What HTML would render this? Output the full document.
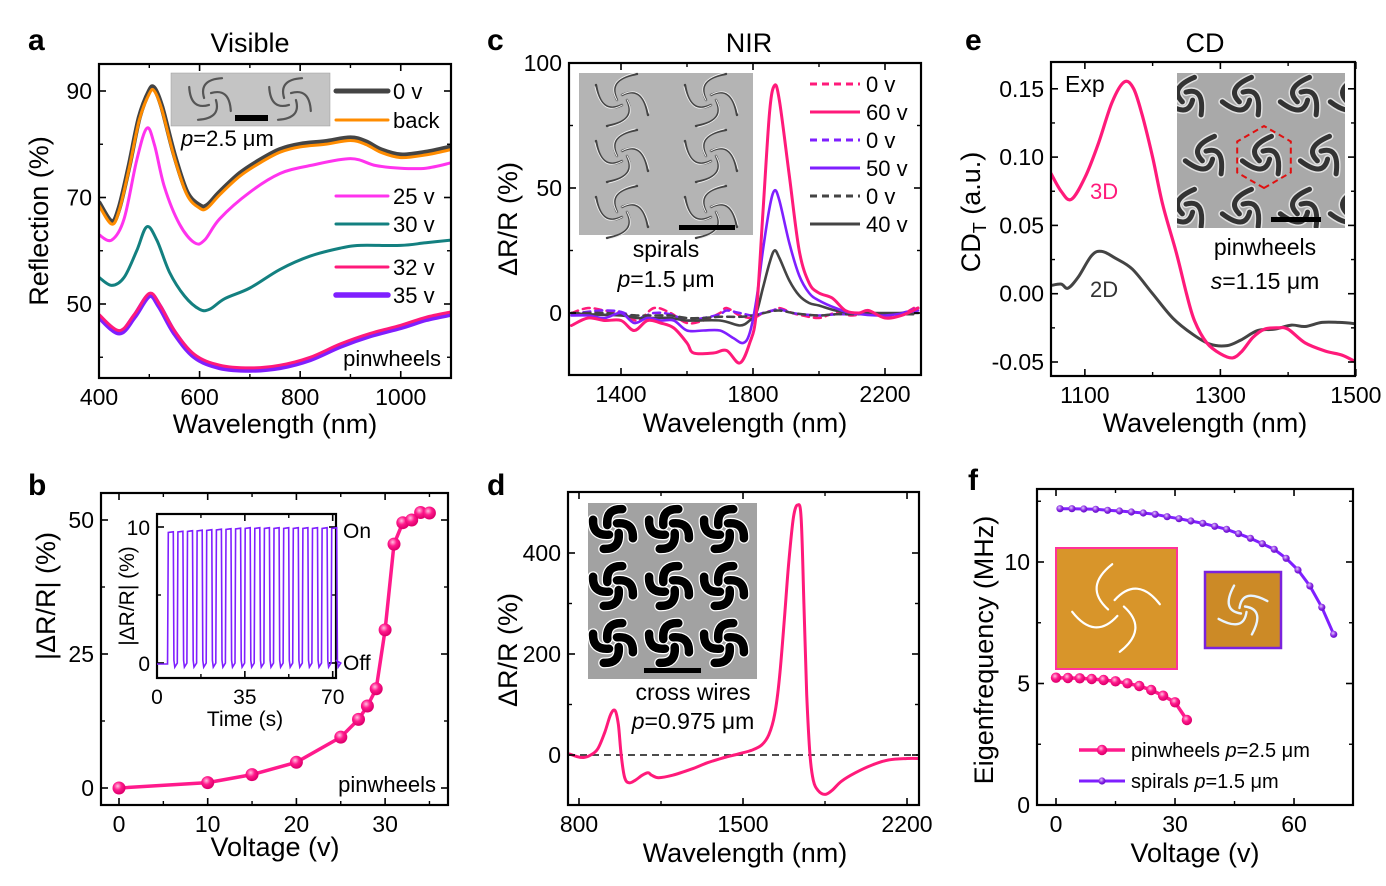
<!DOCTYPE html>
<html><head><meta charset="utf-8"><style>
html,body{margin:0;padding:0;background:#fff;}
svg{display:block;font-family:"Liberation Sans",Arial,sans-serif;}
</style></head><body>
<svg id="s" width="1386" height="886" viewBox="0 0 1386 886" xmlns="http://www.w3.org/2000/svg">
<defs>
<radialGradient id="gp" cx="0.4" cy="0.35" r="0.6"><stop offset="0" stop-color="#ffc0e0"/><stop offset="0.5" stop-color="#ff1a8c"/><stop offset="1" stop-color="#e0006e"/></radialGradient>
<radialGradient id="gv" cx="0.4" cy="0.35" r="0.6"><stop offset="0" stop-color="#e0c8ff"/><stop offset="0.6" stop-color="#8a2be2"/><stop offset="1" stop-color="#6a10d0"/></radialGradient>
</defs>
</svg>
<script>
var S=document.getElementById('s');var out='';
function cr(pts){var d='M'+pts[0][0].toFixed(1)+','+pts[0][1].toFixed(1);
for(var i=0;i<pts.length-1;i++){var p0=pts[i-1]||pts[i],p1=pts[i],p2=pts[i+1],p3=pts[i+2]||p2;
var c1=[p1[0]+(p2[0]-p0[0])/6,p1[1]+(p2[1]-p0[1])/6],c2=[p2[0]-(p3[0]-p1[0])/6,p2[1]-(p3[1]-p1[1])/6];
d+='C'+c1[0].toFixed(1)+','+c1[1].toFixed(1)+' '+c2[0].toFixed(1)+','+c2[1].toFixed(1)+' '+p2[0].toFixed(1)+','+p2[1].toFixed(1);}return d;}
function curve(P,data,col,w,dash){var pts=[];for(var i=0;i<data.length;i+=2)pts.push([P.X(data[i]),P.Y(data[i+1])]);
out+='<path d="'+cr(pts)+'" fill="none" stroke="'+col+'" stroke-width="'+w+'" stroke-linejoin="round" stroke-linecap="round"'+(dash?' stroke-dasharray="'+dash+'"':'')+'/>';}
function txt(x,y,s,sz,anc,extra){out+='<text x="'+x+'" y="'+y+'" font-size="'+sz+'" text-anchor="'+(anc||'start')+'" '+(extra||'')+'>'+s+'</text>';}
function frame(P){var x0=P.x0,x1=P.x1,y0=P.y0,y1=P.y1;
P.xM.forEach(function(v){var x=P.X(v);out+='<line x1="'+x+'" y1="'+y1+'" x2="'+x+'" y2="'+(y1-7)+'" stroke="#000" stroke-width="1.6"/><line x1="'+x+'" y1="'+y0+'" x2="'+x+'" y2="'+(y0+7)+'" stroke="#000" stroke-width="1.6"/>';
txt(x,y1+(P.xo||27),P.xl?P.xl(v):v,P.fs||23,'middle');});
(P.xm||[]).forEach(function(v){var x=P.X(v);out+='<line x1="'+x+'" y1="'+y1+'" x2="'+x+'" y2="'+(y1-4)+'" stroke="#000" stroke-width="1.4"/><line x1="'+x+'" y1="'+y0+'" x2="'+x+'" y2="'+(y0+4)+'" stroke="#000" stroke-width="1.4"/>';});
P.yM.forEach(function(v){var y=P.Y(v);out+='<line x1="'+x0+'" y1="'+y+'" x2="'+(x0+7)+'" y2="'+y+'" stroke="#000" stroke-width="1.6"/><line x1="'+x1+'" y1="'+y+'" x2="'+(x1-7)+'" y2="'+y+'" stroke="#000" stroke-width="1.6"/>';
txt(x0-7,y+8,P.yl?P.yl(v):v,P.fs||23,'end');});
(P.ym||[]).forEach(function(v){var y=P.Y(v);out+='<line x1="'+x0+'" y1="'+y+'" x2="'+(x0+4)+'" y2="'+y+'" stroke="#000" stroke-width="1.4"/><line x1="'+x1+'" y1="'+y+'" x2="'+(x1-4)+'" y2="'+y+'" stroke="#000" stroke-width="1.4"/>';});
out+='<rect x="'+x0+'" y="'+y0+'" width="'+(x1-x0)+'" height="'+(y1-y0)+'" fill="none" stroke="#000" stroke-width="2.2"/>';}
function clip(id,P){out+='<clipPath id="'+id+'"><rect x="'+P.x0+'" y="'+P.y0+'" width="'+(P.x1-P.x0)+'" height="'+(P.y1-P.y0)+'"/></clipPath>';}
function lab(x,y,s){txt(x,y,s,27,'middle');}
function vlab(x,y,s){out+='<text x="'+x+'" y="'+y+'" font-size="27" text-anchor="middle" transform="rotate(-90 '+x+' '+y+')">'+s+'</text>';}
function arm(cx,cy,r0,r1,a,sweep,col,w){var a2=a+sweep,am=a+sweep*0.45;var rad=Math.PI/180;
var p0=[cx+r0*Math.cos(a*rad),cy+r0*Math.sin(a*rad)],p2=[cx+r1*Math.cos(a2*rad),cy+r1*Math.sin(a2*rad)],pc=[cx+(r0+r1)*0.75*Math.cos(am*rad),cy+(r0+r1)*0.75*Math.sin(am*rad)];
out+='<path d="M'+p0[0].toFixed(1)+','+p0[1].toFixed(1)+' Q'+pc[0].toFixed(1)+','+pc[1].toFixed(1)+' '+p2[0].toFixed(1)+','+p2[1].toFixed(1)+'" fill="none" stroke="'+col+'" stroke-width="'+w+'" stroke-linecap="round"/>';}
function motif(cx,cy,n,r0,r1,sw,col,w,off){for(var k=0;k<n;k++)arm(cx,cy,r0,r1,(off||0)+k*360/n,sw,col,w);}

/* ---------- panel a ---------- */
var A={x0:99,x1:451,y0:64,y1:378,X:function(n){return 99+(n-400)*0.5029},Y:function(v){return 304-(v-50)*5.325},
xM:[400,600,800,1000],xm:[500,700,900,1100],yM:[50,70,90],ym:[40,60,80]};
clip('ca',A);
out+='<g clip-path="url(#ca)">';
var a0=[400,69,425,65.5,440,68,460,76,480,85,500,90,510,90.5,525,87,550,78,575,71,600,68.5,615,68.5,640,71,680,74.5,720,77,760,79,800,80,850,80.5,900,81.2,930,80.5,960,79,1000,78,1050,78.5,1100,79.5];
var ab=a0.map(function(v,i){return i%2?v-0.5:v});
curve(A,a0,'#444',5);curve(A,ab,'#ff8c00',3);
curve(A,[400,63,425,62,450,66,475,77,495,83,510,80,530,72,560,65,590,61.5,610,62,640,66,700,71,760,74.5,820,76,900,77.3,950,76,1000,75.5,1050,75.5,1100,76.5],'#ff33ee',3);
curve(A,[400,55,425,53.5,450,55,475,60,495,64.5,515,62,540,56,570,51.5,600,49,620,49,650,51,700,53,760,56.5,820,59,880,60.5,920,61,1000,61,1050,61.5,1100,62],'#138080',3);
var a32=[400,48,440,45,470,48,500,52,520,50,550,45,590,40.5,640,38.5,700,38,760,38.5,820,40,880,42.5,940,44.5,1000,46,1050,47.5,1100,48.5];
curve(A,a32.map(function(v,i){return i%2?v-0.4:v}),'#7f1fff',5.5);curve(A,a32,'#ff1a7a',3);
out+='</g>';
frame(A);
[[91,'0 v','#444',5],[120,'back','#ff8c00',3],[196,'25 v','#ff33ee',3],[224,'30 v','#138080',3],[267,'32 v','#ff1a7a',3],[295,'35 v','#7f1fff',5.5]].forEach(function(r){
out+='<line x1="336" y1="'+r[0]+'" x2="388" y2="'+r[0]+'" stroke="'+r[2]+'" stroke-width="'+r[3]+'" stroke-linecap="round"/>';txt(393,r[0]+8,r[1],22);});
txt(441,366,'pinwheels',22,'end');
out+='<rect x="171" y="73" width="159" height="53" fill="#c4c4c4" stroke="#999" stroke-width="0.5"/>';
motif(210,99,4,6,24,110,'#555',2.2,10);motif(290,99,4,6,24,110,'#555',2.2,10);
out+='<rect x="235" y="115" width="33" height="6" fill="#000"/>';
txt(181,146,'<tspan font-style="italic">p</tspan>=2.5 μm',22);
out+='<text x="28" y="50" font-size="30" font-weight="bold">a</text>';lab(250,52,'Visible');
vlab(48,221,'Reflection (%)');lab(275,433,'Wavelength (nm)');

/* ---------- panel c ---------- */
var C={x0:569,x1:921,y0:63,y1:375,X:function(n){return 621+(n-1400)*0.33},Y:function(v){return 313-v*2.5},
xM:[1400,1800,2200],xm:[1600,2000],yM:[0,50,100],ym:[25,75]};
clip('cc',C);
out+='<rect x="579" y="73" width="174" height="162" fill="#b4b4b4"/>';
[[622,100],[711,100],[622,156],[711,156],[622,212],[711,212]].forEach(function(p){motif(p[0],p[1],4,5,30,120,'#444',2.4,0);motif(p[0],p[1],4,5,30,120,'#eee',1,-4);});
out+='<rect x="679" y="225" width="56" height="5" fill="#000"/>';
out+='<g clip-path="url(#cc)">';
curve(C,[1250,0,1300,2,1350,1,1400,0,1450,-3,1500,2,1550,0,1600,-4,1650,-3,1700,0,1720,2,1760,-1,1800,-2,1830,0,1860,1,1880,2,1920,0,1950,-1,2000,-2,2050,0,2100,-1,2150,0,2200,-1,2250,-0.5,2300,3],'#ff1a7a',2.5,'7 5');
curve(C,[1250,-0.5,1300,0.5,1350,1,1400,0.5,1450,-2,1500,0,1550,-0.5,1600,-3,1650,-2,1700,-0.5,1720,1,1760,0,1800,-1,1830,0,1860,1,1880,1.5,1920,0,1950,-0.5,2000,-1,2050,-0.5,2100,-0.5,2150,0,2200,-0.5,2250,0,2300,2],'#7f1fff',2.5,'7 5');
curve(C,[1250,0,1300,0,1350,0,1400,-0.5,1450,-1,1500,-1,1550,-1,1600,-2,1650,-2,1700,-1.5,1760,-1.5,1800,-1,1850,0.5,1880,1,1920,0,1950,-0.5,2000,-1,2050,-0.5,2100,-0.5,2200,-0.5,2300,-0.5],'#444',2.5,'7 5');
curve(C,[1250,0,1300,-0.5,1400,-1,1450,-2,1500,-2,1550,-2,1600,-3,1700,-3,1760,-5,1790,-3,1810,0,1830,10,1850,20,1865,25,1880,22,1910,13,1940,7,1970,4,2000,3,2050,1,2100,0,2200,0,2300,0],'#444',2.6);
curve(C,[1250,-1,1300,-1,1350,-2,1400,0,1440,-4,1480,-2,1520,-3,1560,-3,1600,-7,1650,-7,1700,-7,1740,-10,1770,-12,1790,-8,1810,5,1830,25,1850,42,1865,49,1880,45,1910,28,1940,15,1970,8,2000,5,2050,2,2100,0,2200,-1,2300,1],'#7f1fff',2.6);
curve(C,[1250,-5,1300,-2,1350,-3,1400,-3,1440,-7,1480,-3,1520,-4,1560,-6,1600,-12,1620,-16,1680,-16,1720,-15,1760,-20,1790,-12,1810,0,1830,40,1850,80,1865,91,1880,85,1910,55,1940,25,1970,12,2000,8,2040,6,2080,1,2120,0,2150,1,2200,-2,2250,-1,2300,2],'#ff1a7a',3);
out+='</g>';
frame(C);
[[84,'0 v','#ff1a7a','7 5'],[112,'60 v','#ff1a7a',''],[140,'0 v','#7f1fff','7 5'],[168,'50 v','#7f1fff',''],[196,'0 v','#444','7 5'],[224,'40 v','#444','']].forEach(function(r){
out+='<line x1="810" y1="'+r[0]+'" x2="860" y2="'+r[0]+'" stroke="'+r[2]+'" stroke-width="3"'+(r[3]?' stroke-dasharray="'+r[3]+'"':'')+'/>';txt(866,r[0]+8,r[1],22);});
txt(666,257,'spirals',23,'middle');txt(666,287,'<tspan font-style="italic">p</tspan>=1.5 μm',23,'middle');
out+='<text x="487" y="50" font-size="30" font-weight="bold">c</text>';lab(749,52,'NIR');
vlab(517,219,'ΔR/R (%)');lab(745,432,'Wavelength (nm)');

/* ---------- panel e ---------- */
var E={x0:1051,x1:1355,y0:62,y1:376,X:function(n){return 1051+(n-1050)*0.6775},Y:function(v){return 293.7-v*1366},
xM:[1100,1300,1500],xm:[1200,1400],yM:[-0.05,0,0.05,0.1,0.15],ym:[-0.025,0.025,0.075,0.125],yl:function(v){return v.toFixed(2)}};
clip('ce',E);
out+='<rect x="1177" y="73" width="168" height="155" fill="#a9a9a9"/>';
out+='<g clip-path="url(#ce)"><clipPath id="ci"><rect x="1177" y="73" width="168" height="155"/></clipPath><g clip-path="url(#ci)">';
[[1187,98],[1244,98],[1302,98],[1352,98],[1207,157],[1264,157],[1322,157],[1187,210],[1244,210],[1302,210],[1352,210]].forEach(function(p){motif(p[0],p[1],3,6,22,150,'#e0e0e0',8,20);motif(p[0],p[1],3,6,22,150,'#333',5,20);});
out+='</g>';
var hx='';for(var k=0;k<6;k++){var an=(k*60+90)*Math.PI/180;hx+=(1264+31*Math.cos(an)).toFixed(1)+','+(157+31*Math.sin(an)).toFixed(1)+' ';}
out+='<polygon points="'+hx+'" fill="none" stroke="#e01010" stroke-width="2" stroke-dasharray="6 4"/>';
out+='<rect x="1271" y="217" width="50" height="5" fill="#000"/>';
curve(E,[1050,0.006,1065,0.007,1075,0.004,1090,0.012,1110,0.028,1125,0.031,1145,0.026,1170,0.018,1200,0.0,1230,-0.018,1260,-0.03,1285,-0.037,1310,-0.038,1330,-0.034,1355,-0.027,1380,-0.026,1405,-0.023,1425,-0.024,1450,-0.021,1475,-0.021,1500,-0.022],'#444',3);
curve(E,[1050,0.088,1065,0.075,1080,0.069,1100,0.085,1120,0.11,1140,0.14,1158,0.155,1172,0.15,1185,0.13,1200,0.1,1215,0.065,1235,0.03,1250,0.0,1262,-0.02,1280,-0.036,1300,-0.044,1318,-0.047,1332,-0.042,1348,-0.032,1365,-0.026,1385,-0.025,1400,-0.026,1425,-0.036,1455,-0.042,1480,-0.045,1500,-0.05],'#ff1a7a',3.2);
out+='</g>';
frame(E);
txt(1065,92,'Exp',23);txt(1090,199,'3D',22,'',' fill="#ff1a7a"');txt(1090,297,'2D',22,'',' fill="#333"');
txt(1265,255,'pinwheels',23,'middle');txt(1265,289,'<tspan font-style="italic">s</tspan>=1.15 μm',23,'middle');
out+='<text x="965" y="50" font-size="30" font-weight="bold">e</text>';lab(1205,52,'CD');
out+='<text x="0" y="0" font-size="27" text-anchor="middle" transform="translate(980 212) rotate(-90)">CD<tspan font-size="18" dy="6">T</tspan><tspan dy="-6"> (a.u.)</tspan></text>';
lab(1205,432,'Wavelength (nm)');

/* ---------- panel b ---------- */
var B={x0:101,x1:448,y0:493,y1:805,X:function(v){return 119+v*8.87},Y:function(v){return 788-v*5.36},
xM:[0,10,20,30],xm:[5,15,25,35],yM:[0,25,50],ym:[12.5,37.5]};
frame(B);
var bd=[0,0,10,1,15,2.5,20,4.8,25,9.5,27,12.8,28,15.3,29,18.5,30,29.5,31,45.5,32,49.5,33,50,34,51.4,35,51.3];
var bp='';for(var i=0;i<bd.length;i+=2)bp+=(i?'L':'M')+B.X(bd[i]).toFixed(1)+','+B.Y(bd[i+1]).toFixed(1);
out+='<path d="'+bp+'" fill="none" stroke="#ff1a8c" stroke-width="3.5" stroke-linejoin="round"/>';
for(var i=0;i<bd.length;i+=2)out+='<circle cx="'+B.X(bd[i]).toFixed(1)+'" cy="'+B.Y(bd[i+1]).toFixed(1)+'" r="6.5" fill="url(#gp)"/>';
txt(436,792,'pinwheels',22,'end');
/* inset */
var I={x0:157,x1:336,y0:514,y1:678,X:function(t){return 157+t*2.51},Y:function(v){return 663-v*13.6},xM:[0,35,70],xm:[17.5,52.5],yM:[0,10],ym:[5],fs:21,xo:26};
frame(I);
var sq='M157,664';sq+='L'+I.X(4.2)+',664';
for(var k=0;k<18;k++){var t0=4.5+k*3.83,t1=t0+2.0;var hi=9.6+0.3*Math.min(k/8,1);
sq+='L'+I.X(t0).toFixed(1)+','+I.Y(hi).toFixed(1)+'L'+I.X(t1).toFixed(1)+','+I.Y(hi+0.05).toFixed(1)+'L'+I.X(t1+0.25).toFixed(1)+','+I.Y(0.2).toFixed(1)+'L'+I.X(t1+0.6).toFixed(1)+','+I.Y(-0.3).toFixed(1)+'L'+I.X(t0+3.6).toFixed(1)+','+I.Y(0).toFixed(1);}
sq+='L'+I.X(71.2).toFixed(1)+','+I.Y(0.2).toFixed(1);
out+='<path d="'+sq+'" fill="none" stroke="#7f1fff" stroke-width="1.6"/>';
txt(343,538,'On',21);txt(343,670,'Off',21);
txt(245,726,'Time (s)',21,'middle');
out+='<text x="0" y="0" font-size="21" text-anchor="middle" transform="translate(134 596) rotate(-90)">|ΔR/R| (%)</text>';
out+='<text x="28" y="495" font-size="30" font-weight="bold">b</text>';
vlab(55,596,'|ΔR/R| (%)');lab(275,856,'Voltage (v)');

/* ---------- panel d ---------- */
var D={x0:568,x1:919,y0:492,y1:805,X:function(n){return 579+(n-800)*0.2343},Y:function(v){return 755-v*0.505},
xM:[800,1500,2200],xm:[1150,1850],yM:[0,200,400],ym:[100,300]};
clip('cd',D);
out+='<rect x="588" y="503" width="169" height="176" fill="#a2a2a2"/>';
[[613,529],[669,529],[724,529],[613,586],[669,586],[724,586],[613,643],[669,643],[724,643]].forEach(function(p){motif(p[0],p[1],4,7,22,80,'#fff',11,35);motif(p[0],p[1],4,7,22,80,'#000',8.5,35);});
out+='<rect x="644" y="668" width="57" height="5" fill="#000"/>';
out+='<line x1="568" y1="755" x2="919" y2="755" stroke="#333" stroke-width="1.8" stroke-dasharray="7 5"/>';
out+='<g clip-path="url(#cd)">';
curve(D,[760,2,790,-3,820,-5,850,0,880,12,910,45,935,80,954,88,968,60,980,0,995,-45,1015,-55,1040,-50,1070,-40,1095,-35,1110,-40,1140,-45,1200,-40,1280,-28,1350,-15,1420,-5,1480,2,1540,10,1580,20,1610,40,1635,80,1655,150,1675,260,1695,380,1715,470,1733,495,1748,470,1760,300,1772,120,1786,0,1800,-50,1820,-70,1850,-78,1880,-70,1920,-52,1980,-35,2050,-20,2120,-10,2200,-7,2260,-7],'#ff1a7a',3);
out+='</g>';
frame(D);
txt(693,700,'cross wires',23,'middle');txt(693,729,'<tspan font-style="italic">p</tspan>=0.975 μm',23,'middle');
out+='<text x="487" y="495" font-size="30" font-weight="bold">d</text>';
vlab(517,650,'ΔR/R (%)');lab(745,862,'Wavelength (nm)');

/* ---------- panel f ---------- */
var F={x0:1037,x1:1353,y0:489,y1:805,X:function(v){return 1056+v*3.967},Y:function(v){return 805-v*24.3},
xM:[0,30,60],xm:[15,45],yM:[0,5,10],ym:[2.5,7.5,12.5]};
frame(F);
out+='<rect x="1056" y="548" width="121" height="121" fill="#d8952a" stroke="#ff3399" stroke-width="2"/>';
motif(1116,608,4,8,44,95,'#fff',2.2,-100);
out+='<rect x="1205" y="572" width="76" height="76" fill="#cc8a26" stroke="#7a22dd" stroke-width="2.5"/>';
motif(1243,610,4,4,26,130,'#e8f4ff',2.4,-60);
var sv=[[1,176],[4,176],[7,177],[10,178],[13,181],[16,183],[19,186],[22,189],[25,193],[28,200],[31,206],[34,213],[37,220],[40,229],[43,238],[46,251],[49,265],[52,281],[55,298],[58,325],[61,360],[64,408],[67,472],[70,553]];
var pv=[683,684,685,687,690,694,700,708,720,737,757,810];
function poly(arr){var d='';arr.forEach(function(p,i){d+=(i?'L':'M')+p[0].toFixed(1)+','+p[1].toFixed(1)});return d;}
var sp=sv.map(function(p){return[F.X(p[0]),450+p[1]/3]});
var pp=pv.map(function(z,i){return[F.X(i*3),450+z/3]});
out+='<path d="'+poly(sp)+'" fill="none" stroke="#7f1fff" stroke-width="3"/>';
sp.forEach(function(p){out+='<circle cx="'+p[0].toFixed(1)+'" cy="'+p[1].toFixed(1)+'" r="3.6" fill="url(#gv)"/>';});
out+='<path d="'+poly(pp)+'" fill="none" stroke="#ff1a8c" stroke-width="3.5"/>';
pp.forEach(function(p){out+='<circle cx="'+p[0].toFixed(1)+'" cy="'+p[1].toFixed(1)+'" r="5.2" fill="url(#gp)"/>';});
out+='<line x1="1079" y1="750" x2="1125" y2="750" stroke="#ff1a8c" stroke-width="3.5"/><circle cx="1102" cy="750" r="5.2" fill="url(#gp)"/>';
out+='<line x1="1079" y1="781" x2="1125" y2="781" stroke="#7f1fff" stroke-width="3"/><circle cx="1102" cy="781" r="3.6" fill="url(#gv)"/>';
txt(1131,757,'pinwheels <tspan font-style="italic">p</tspan>=2.5 μm',20);
txt(1131,788,'spirals <tspan font-style="italic">p</tspan>=1.5 μm',20);
out+='<text x="968" y="490" font-size="30" font-weight="bold">f</text>';
vlab(993,650,'Eigenfrequency (MHz)');lab(1195,862,'Voltage (v)');

S.innerHTML+=out;
</script>
</body></html>
